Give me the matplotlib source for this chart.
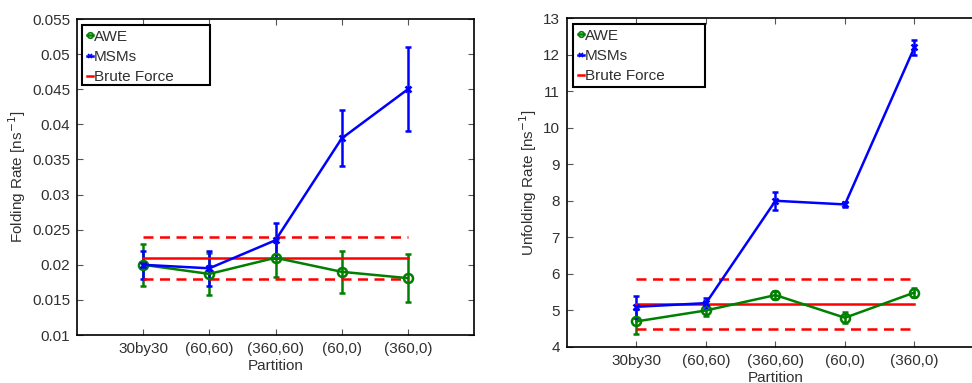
import numpy as np
import matplotlib
matplotlib.use('Agg')
import matplotlib.pyplot as plt
from matplotlib.lines import Line2D
from matplotlib.patches import Rectangle

plt.rcParams['font.family'] = ['Liberation Sans', 'DejaVu Sans']

partitions = ['30by30', '(60,60)', '(360,60)', '(60,0)', '(360,0)']

# folding rates
awe_fold = [0.0200, 0.0187, 0.0210, 0.0190, 0.0181]
awe_fold_err = [0.0030, 0.0030, 0.0027, 0.0030, 0.0034]
msm_fold = [0.0200, 0.0195, 0.0235, 0.0380, 0.0450]
msm_fold_err = [0.0020, 0.0025, 0.0025, 0.0040, 0.0060]
bf_fold = 0.021
bf_fold_band = [0.018, 0.024]

# unfolding rates
awe_unfold = [4.70, 5.00, 5.42, 4.80, 5.49]
awe_unfold_err = [0.35, 0.15, 0.12, 0.15, 0.12]
msm_unfold = [5.10, 5.20, 8.00, 7.90, 12.20]
msm_unfold_err = [0.30, 0.15, 0.25, 0.07, 0.20]
bf_unfold = 5.18
bf_unfold_band = [4.48, 5.87]

TXT = '#303030'
LW = 1.8


def draw(ax, awe, awe_err, msm, msm_err, bf, band, ylabel, ylim, yticks, yfmt, box):
    x = np.arange(1, len(partitions) + 1)
    ax.errorbar(x, awe, yerr=awe_err, color='green', marker='o', mfc='none',
                ms=6.5, mew=LW, lw=LW, capsize=2.5, elinewidth=LW)
    ax.errorbar(x, msm, yerr=msm_err, color='blue', marker='x',
                ms=4, mew=LW, lw=LW, capsize=2.5, elinewidth=LW)
    ax.plot([x[0], x[-1]], [bf, bf], color='red', lw=LW)
    for b in band:
        ax.plot([x[0], x[-1]], [b, b], color='red', lw=LW, ls=(0, (4, 2.6)))
    ax.set_xlim(0, 6)
    ax.set_ylim(*ylim)
    ax.set_xticks(x)
    ax.set_xticklabels(partitions)
    ax.set_yticks(yticks)
    ax.set_yticklabels([yfmt(v) for v in yticks])
    ax.tick_params(direction='in', top=True, right=True, length=4,
                   color='#555555', labelcolor=TXT, labelsize=11, pad=5)
    ax.set_xlabel('Partition', color=TXT, fontsize=11, labelpad=2)
    ax.set_ylabel(ylabel, color=TXT, fontsize=11, labelpad=3)
    for s in ax.spines.values():
        s.set_linewidth(1.2)

    # legend: matlab style box wider than its text
    handles = [
        Line2D([], [], color='green', marker='o', mfc='none', ms=4, mew=1.2, lw=LW),
        Line2D([], [], color='blue', marker='x', ms=3, mew=1.2, lw=LW),
        Line2D([], [], color='red', lw=LW),
    ]
    x0, x1, y0, y1 = box
    ax.add_patch(Rectangle((x0, y0), x1 - x0, y1 - y0, transform=ax.transAxes,
                           fill=True, facecolor='white', edgecolor='black',
                           lw=1.5, zorder=5))
    leg = ax.legend(handles, ['AWE', 'MSMs', 'Brute Force'], loc='upper left',
                    bbox_to_anchor=(x0, y1), frameon=False,
                    handlelength=0.45, handletextpad=0.05, borderpad=0.3,
                    borderaxespad=0.0, labelspacing=0.42, fontsize=11)
    leg.set_zorder(6)
    for t in leg.get_texts():
        t.set_color(TXT)


fig = plt.figure(figsize=(9.72, 3.83), dpi=100)
ax1 = fig.add_axes([0.0792, 0.1253, 0.4085, 0.825])
ax2 = fig.add_axes([0.5833, 0.094, 0.429, 0.859])

draw(ax1, awe_fold, awe_fold_err, msm_fold, msm_fold_err, bf_fold, bf_fold_band,
     'Folding Rate [ns$^{-1}$]', (0.01, 0.055),
     [0.01, 0.015, 0.02, 0.025, 0.03, 0.035, 0.04, 0.045, 0.05, 0.055],
     lambda v: ('%g' % v), (0.0126, 0.335, 0.791, 0.981))
draw(ax2, awe_unfold, awe_unfold_err, msm_unfold, msm_unfold_err, bf_unfold,
     bf_unfold_band, 'Unfolding Rate [ns$^{-1}$]', (4, 13),
     list(range(4, 14)), lambda v: '%d' % v, (0.0144, 0.331, 0.790, 0.982))

fig.savefig('out.png', dpi=100)
